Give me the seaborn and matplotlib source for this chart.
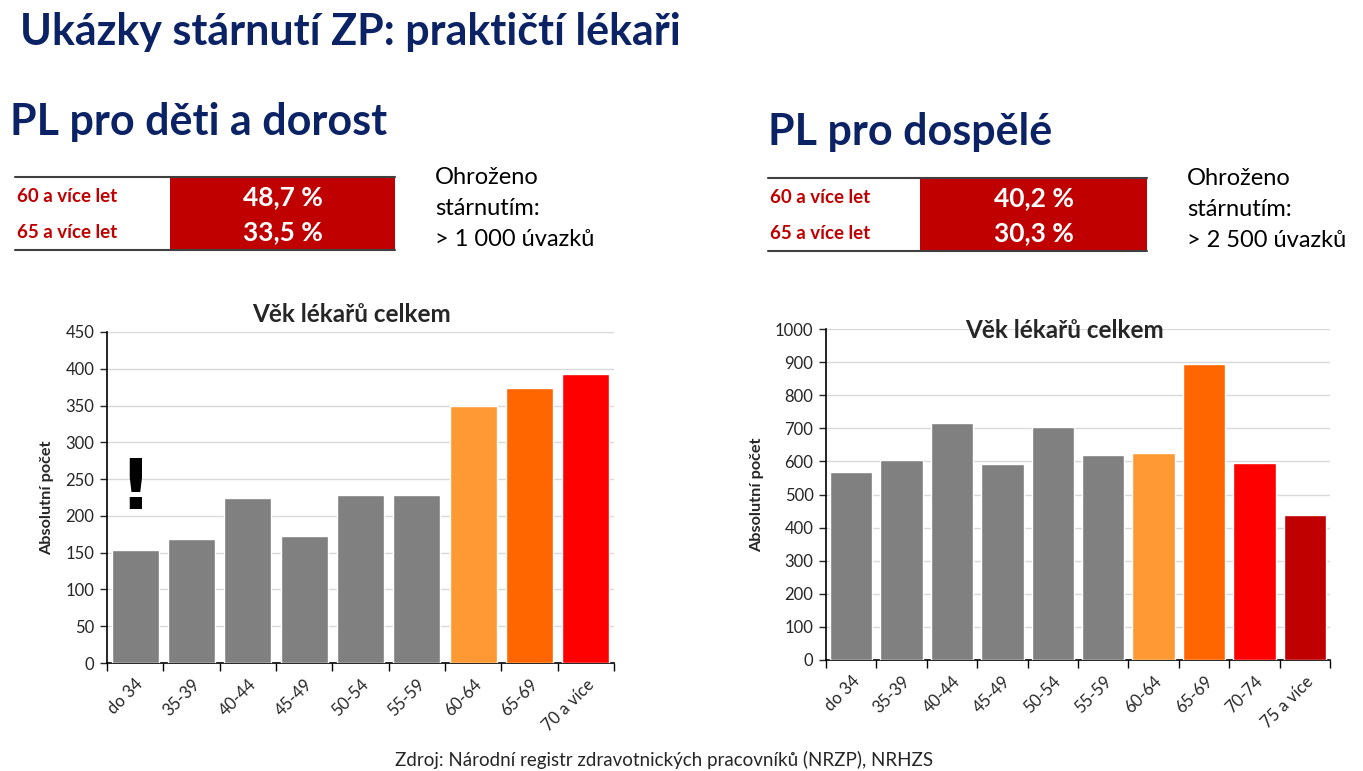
import matplotlib
matplotlib.use("Agg")
import matplotlib.pyplot as plt
import seaborn as sns
import pandas as pd
from matplotlib.patches import Rectangle
from matplotlib.lines import Line2D

# data
age_deti = ["do 34", "35-39", "40-44", "45-49", "50-54", "55-59", "60-64", "65-69", "70 a více"]
count_deti = [154, 168, 225, 172, 229, 229, 350, 374, 393]
colors_deti = ["#808080"] * 6 + ["#FF9933", "#FF6600", "#FF0000"]

age_dosp = ["do 34", "35-39", "40-44", "45-49", "50-54", "55-59", "60-64", "65-69", "70-74", "75 a více"]
count_dosp = [567, 604, 715, 592, 703, 619, 625, 895, 595, 437]
colors_dosp = ["#808080"] * 6 + ["#FF9933", "#FF6600", "#FF0000", "#C00000"]

share_labels = ["60 a více let", "65 a více let"]
share_deti = ["48,7 %", "33,5 %"]
share_dosp = ["40,2 %", "30,3 %"]
threat_deti = "Ohroženo\nstárnutím:\n> 1 000 úvazků"
threat_dosp = "Ohroženo\nstárnutím:\n> 2 500 úvazků"

sns.set_style("white")
plt.rcParams["font.family"] = ["Lato", "DejaVu Sans"]

W, H = 1363, 771
fig = plt.figure(figsize=(W / 100, H / 100), dpi=100)

def fx(x):
    return x / W

def fy(y):
    return 1 - y / H

navy = "#0B2265"
dark_red = "#C00000"

fig.text(fx(20), fy(32), "Ukázky stárnutí ZP: praktičtí lékaři", fontsize=31, fontweight="bold",
         color=navy, va="center", ha="left")
fig.text(fx(10), fy(122), "PL pro děti a dorost", fontsize=31, fontweight="bold",
         color=navy, va="center", ha="left")
fig.text(fx(768), fy(132), "PL pro dospělé", fontsize=31, fontweight="bold",
         color=navy, va="center", ha="left")


def share_table(x0, xsplit, x1, y0, y1, values, note_x, note):
    fig.patches.append(Rectangle((fx(xsplit), fy(y1)), fx(x1) - fx(xsplit), fy(y0) - fy(y1),
                                 transform=fig.transFigure, facecolor=dark_red, edgecolor="none"))
    for yy in (y0, y1):
        fig.lines.append(Line2D([fx(x0), fx(x1)], [fy(yy), fy(yy)], transform=fig.transFigure,
                                color="#404040", lw=1.5))
    rows = [y0 + (y1 - y0) * 0.27, y0 + (y1 - y0) * 0.76]
    for lab, val, yy in zip(share_labels, values, rows):
        fig.text(fx(x0 + 2), fy(yy), lab, fontsize=13.5, fontweight="bold", color=dark_red,
                 va="center", ha="left")
        fig.text(fx((xsplit + x1) / 2), fy(yy), val, fontsize=19, fontweight="bold", color="white",
                 va="center", ha="center")
    fig.text(fx(note_x), fy(y0 - 10), note, fontsize=17, color="black", va="top", ha="left",
             linespacing=1.58)


share_table(15, 170, 395, 177, 250, share_deti, 435, threat_deti)
share_table(768, 920, 1147, 178, 251, share_dosp, 1187, threat_dosp)


def bar_chart(rect, cats, vals, cols, ymax, step):
    ax = fig.add_axes(rect)
    df = pd.DataFrame({"vek": cats, "pocet": vals})
    sns.barplot(data=df, x="vek", y="pocet", hue="vek", palette=cols, legend=False,
                width=0.84, saturation=1, ax=ax, zorder=3)
    n = len(cats)
    ax.set_xlim(-0.5, n - 0.5)
    ax.set_ylim(0, ymax)
    ax.set_yticks(range(0, ymax + 1, step))
    ax.yaxis.grid(True, color="#D9D9D9", lw=1, zorder=0)
    ax.set_axisbelow(True)
    for s in ("top", "right"):
        ax.spines[s].set_visible(False)
    for s in ("left", "bottom"):
        ax.spines[s].set_color("black")
        ax.spines[s].set_linewidth(1.2)
    ax.set_xlabel("")
    ax.set_ylabel("Absolutní počet", fontsize=11.7, fontweight="bold", labelpad=8)
    ax.tick_params(axis="y", which="major", left=True, length=5, width=1, labelsize=12, pad=4)
    ax.tick_params(axis="x", which="major", bottom=False, labelsize=12, pad=6)
    ax.set_xticks(range(n))
    ax.set_xticklabels(cats, rotation=45, ha="right", rotation_mode="anchor")
    ax.set_xticks([i + 0.5 for i in range(-1, n)], minor=True)
    ax.tick_params(axis="x", which="minor", bottom=True, length=6, width=1, color="black")
    return ax


ax1 = bar_chart([fx(107), fy(663), fx(614) - fx(107), fy(332) - fy(663)],
                age_deti, count_deti, colors_deti, 450, 50)
fig.text(fx(352), fy(315), "Věk lékařů celkem", fontsize=17.5, fontweight="bold", ha="center", va="center")
ax1.text(0, 236, "!", fontsize=50, fontweight="bold", family="DejaVu Sans", color="black",
         ha="center", va="center")

ax2 = bar_chart([fx(826), fy(660), fx(1330) - fx(826), fy(329) - fy(660)],
                age_dosp, count_dosp, colors_dosp, 1000, 100)
fig.text(fx(1065), fy(330), "Věk lékařů celkem", fontsize=17.5, fontweight="bold", ha="center", va="center")

fig.text(fx(664), fy(760), "Zdroj: Národní registr zdravotnických pracovníků (NRZP), NRHZS",
         fontsize=13.5, ha="center", va="center")

fig.savefig("out.png", dpi=100)
